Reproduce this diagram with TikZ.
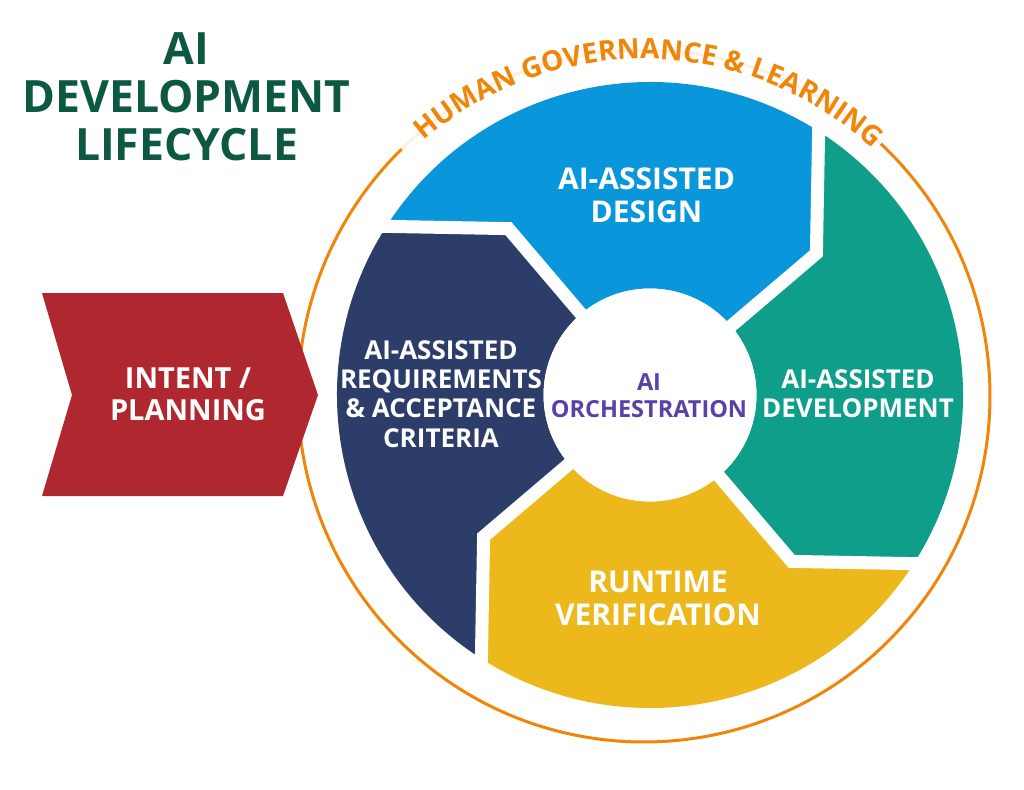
\documentclass[tikz,border=0pt]{standalone}
\usepackage{fontspec}
\setmainfont{Open Sans}
\usetikzlibrary{decorations.text,calc}
\definecolor{cblue}{HTML}{0A96DA}
\definecolor{cteal}{HTML}{0F9E8A}
\definecolor{cyellow}{HTML}{EDB81C}
\definecolor{cnavy}{HTML}{2C3D6A}
\definecolor{cred}{HTML}{B0282F}
\definecolor{corange}{HTML}{EF8609}
\definecolor{cgreen}{HTML}{0D5843}
\definecolor{cpurple}{HTML}{5B40A8}
\newcommand\Rout{313}
\newcommand\Rmid{218.5}
\newcommand\Rin{106.5}
\newcommand\Doff{17}
% segment between trailing boundary angle #1 and leading boundary angle #2
\newcommand\ringseg[3]{%
  \fill[#3] ({#1+\Doff}:\Rout) arc[start angle={#1+\Doff}, end angle={#2+\Doff}, radius=\Rout]
    -- (#2:\Rmid) -- (#2:\Rin) arc[start angle=#2, end angle=#1, radius=\Rin]
    -- (#1:\Rmid) -- cycle;}
\newcommand\gapline[1]{%
  \draw[gap] ($(#1:\Rmid)!1.15!({#1+\Doff}:\Rout)$) -- (#1:\Rmid) -- (#1:80);}
\tikzset{
  gap/.style={white, line width=13pt, line join=miter, line cap=butt},
  seglabel/.style={text=white, align=center, font=\fontsize{26}{29.3}\selectfont\bfseries},
  biglabel/.style={text=white, align=center, font=\fontsize{30}{33}\selectfont\bfseries},
}
\begin{document}
\begin{tikzpicture}[x=1pt,y=1pt]
\useasboundingbox (0,0) rectangle (1024,-789);
\fill[white] (0,0) rectangle (1024,-789);

% governance circle
\coordinate (O) at (644,-396);
\draw[corange, line width=3pt] (O) ++(46.8:346) arc[start angle=46.8, end angle=-225.5, radius=346];
\draw[corange, line width=3pt, opacity=0.12] (O) ++(46.8:346) arc[start angle=46.8, end angle=134.5, radius=346];
\path[decorate, decoration={text along path, text align=center, text color=corange,
  text={|\fontsize{28}{28}\selectfont\bfseries|HUMAN GOVERNANCE {\&} LEARNING}}]
  (O) ++(140:337) arc[start angle=140, end angle=38, radius=337];

% ring segments
\begin{scope}[shift={(650,-395)}]
  \ringseg{130.4}{40.4}{cblue}
  \ringseg{40.4}{-49.6}{cteal}
  \ringseg{-49.6}{-139.6}{cyellow}
  \ringseg{220.4}{130.4}{cnavy}
  \gapline{130.4}
  \gapline{40.4}
  \gapline{-49.6}
  \gapline{-139.6}
  \fill[white] (0,0) circle[radius=\Rin];
\end{scope}

% intent arrow
\fill[cred] (42,-293) -- (283,-293) -- (318,-395) -- (283,-496) -- (42,-496) -- (72,-395) -- cycle;

% labels
\node[text=cgreen, align=center, font=\fontsize{44.5}{48}\selectfont\bfseries] (title) at (186.5,-97) {AI\\DEVELOPMENT\\LIFECYCLE};
\node[text=white, align=center, font=\fontsize{29}{32}\selectfont\bfseries] (intent) at (188,-394) {INTENT /\\PLANNING};
\node[biglabel] (design) at (646.5,-195) {AI-ASSISTED\\DESIGN};
\node[seglabel] (req) at (441,-394) {AI-ASSISTED\\REQUIREMENTS\\\& ACCEPTANCE\\CRITERIA};
\node[seglabel] (dev) at (858,-394) {AI-ASSISTED\\DEVELOPMENT};
\node[biglabel] (run) at (658,-598.5) {RUNTIME\\VERIFICATION};
\node[text=cpurple, align=center, font=\fontsize{23.5}{27}\selectfont\bfseries] (orch) at (649,-395.5) {AI\\ORCHESTRATION};
\end{tikzpicture}
\end{document}
